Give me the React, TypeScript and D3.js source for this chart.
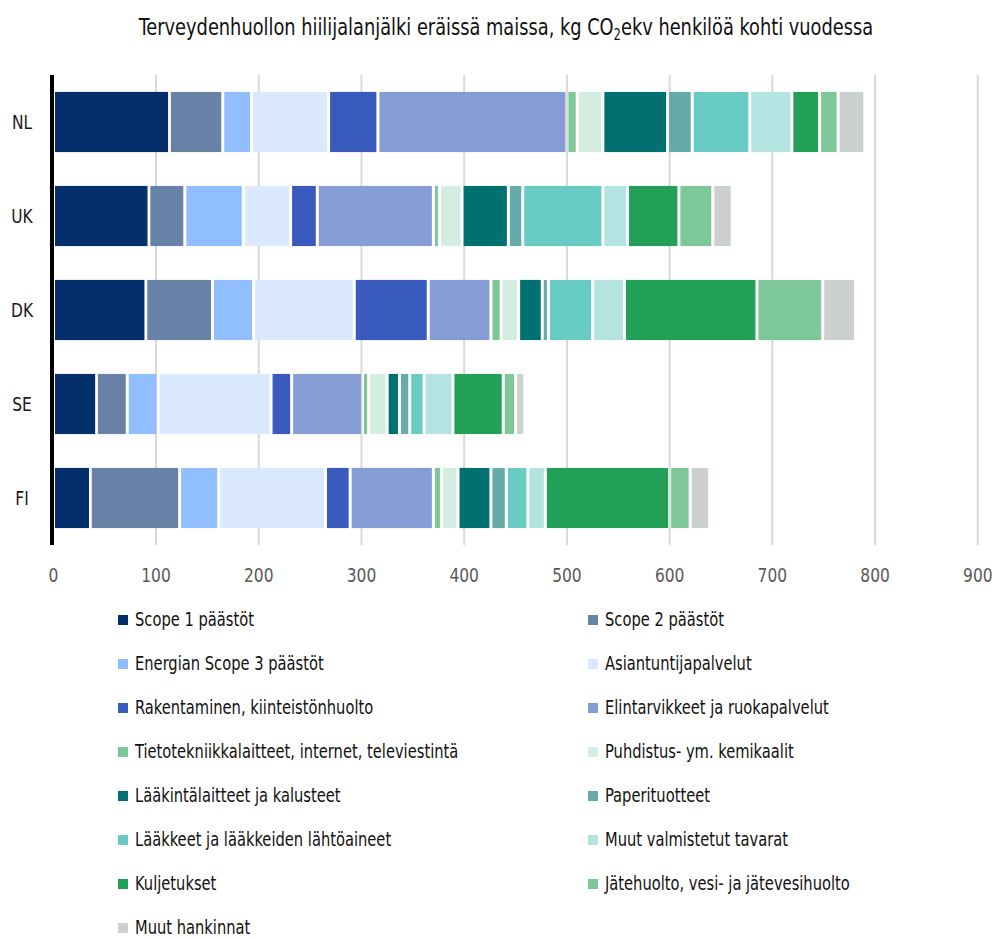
import React from "react";
import * as d3 from "d3";

const countries = ["NL", "UK", "DK", "SE", "FI"];

const categories = [
  "Scope 1 päästöt",
  "Scope 2 päästöt",
  "Energian Scope 3 päästöt",
  "Asiantuntijapalvelut",
  "Rakentaminen, kiinteistönhuolto",
  "Elintarvikkeet ja ruokapalvelut",
  "Tietotekniikkalaitteet, internet, televiestintä",
  "Puhdistus- ym. kemikaalit",
  "Lääkintälaitteet ja kalusteet",
  "Paperituotteet",
  "Lääkkeet ja lääkkeiden lähtöaineet",
  "Muut valmistetut tavarat",
  "Kuljetukset",
  "Jätehuolto, vesi- ja jätevesihuolto",
  "Muut hankinnat",
];

const colors = [
  "#03306A", "#6881A6", "#90BEFF", "#DAE9FF", "#395BBD", "#869CD5",
  "#7EC798", "#D4EDE0", "#007170", "#66AAAA", "#68CBC4", "#B4E4E1",
  "#23A057", "#7EC798", "#CDD1CE",
];

const valuesNL = [113, 52, 28, 75, 48, 184, 10, 25, 63, 24, 56, 41, 27, 18, 26];
const valuesUK = [93, 35, 57, 46, 26, 113, 6, 22, 45, 14, 78, 24, 50, 33, 19];
const valuesDK = [90, 65, 40, 98, 72, 61, 10, 17, 23, 6, 43, 31, 129, 64, 32];
const valuesSE = [42, 30, 30, 110, 20, 69, 6, 18, 12, 10, 14, 28, 49, 12, 9];
const valuesFI = [36, 87, 38, 104, 24, 81, 8, 16, 32, 15, 21, 17, 121, 20, 19];

const xTicks = [0, 100, 200, 300, 400, 500, 600, 700, 800, 900];

const FONT = "'Liberation Sans Narrow', 'DejaVu Sans Condensed', 'Roboto', sans-serif";
const SQUEEZE = 0.86;

function CText(props: {
  x: number;
  y: number;
  size: number;
  fill: string;
  anchor?: "start" | "middle" | "end";
  baseline?: string;
  children: React.ReactNode;
}) {
  const { x, y, size, fill, anchor = "start", baseline, children } = props;
  return (
    <text
      transform={`translate(${x},${y}) scale(${SQUEEZE},1)`}
      textAnchor={anchor}
      dominantBaseline={baseline}
      fontSize={size}
      fill={fill}
    >
      {children}
    </text>
  );
}

export default function App() {
  const width = 995;
  const height = 939;
  const seriesValues = [valuesNL, valuesUK, valuesDK, valuesSE, valuesFI];

  const rows = countries.map((c, i) => {
    const row: Record<string, any> = { country: c };
    categories.forEach((cat, j) => (row[cat] = seriesValues[i][j]));
    return row;
  });

  const stacked = d3.stack<any>().keys(categories)(rows);

  const x = d3.scaleLinear().domain([0, 900]).range([53.3, 977.8]);
  const y = d3
    .scaleBand<string>()
    .domain(countries)
    .range([75, 545])
    .paddingInner(0.36)
    .paddingOuter(0.18);

  const legendTop = 620;
  const legendRowH = 44;

  return (
    <svg
      width={width}
      height={height}
      style={{ display: "block", position: "absolute", left: 0, top: 0 }}
      fontFamily={FONT}
    >
      <rect x={0} y={0} width={width} height={height} fill="#fff" />
      <CText x={506} y={35} size={23} fill="#111" anchor="middle">
        Terveydenhuollon hiilijalanjälki eräissä maissa, kg CO
        <tspan fontSize={15} dy={5}>2</tspan>
        <tspan dy={-5}>ekv henkilöä kohti vuodessa</tspan>
      </CText>

      {xTicks.map((t) =>
        t === 0 ? null : (
          <line key={"g" + t} x1={x(t)} x2={x(t)} y1={75} y2={545} stroke="#D9D9D9" strokeWidth={2} />
        )
      )}

      {stacked.map((s, si) => (
        <g key={s.key} fill={colors[si]}>
          {s.map((d, di) => {
            const x0 = x(d[0]);
            const x1 = x(d[1]);
            const w = Math.max(0, x1 - x0 - 3);
            return (
              <rect
                key={di}
                x={x0 + (si === 0 ? 1.7 : 1.5)}
                y={y(countries[di])!}
                width={w}
                height={y.bandwidth()}
              />
            );
          })}
        </g>
      ))}

      <line x1={52} x2={52} y1={75} y2={545} stroke="#000" strokeWidth={4} />

      {xTicks.map((t) => (
        <CText key={"t" + t} x={x(t)} y={582} size={20} fill="#595959" anchor="middle">
          {t}
        </CText>
      ))}

      {countries.map((c) => (
        <CText
          key={c}
          x={22}
          y={y(c)! + y.bandwidth() / 2}
          anchor="middle"
          baseline="central"
          size={20}
          fill="#1a1a1a"
        >
          {c}
        </CText>
      ))}

      {categories.map((cat, i) => {
        const col = i % 2;
        const row = Math.floor(i / 2);
        const sx = col === 0 ? 118 : 588;
        const cy = legendTop + row * legendRowH;
        return (
          <g key={cat}>
            <rect x={sx} y={cy - 5} width={10} height={10} fill={colors[i]} />
            <CText x={sx + 17} y={cy} baseline="central" size={19} fill="#111">
              {cat}
            </CText>
          </g>
        );
      })}
    </svg>
  );
}
